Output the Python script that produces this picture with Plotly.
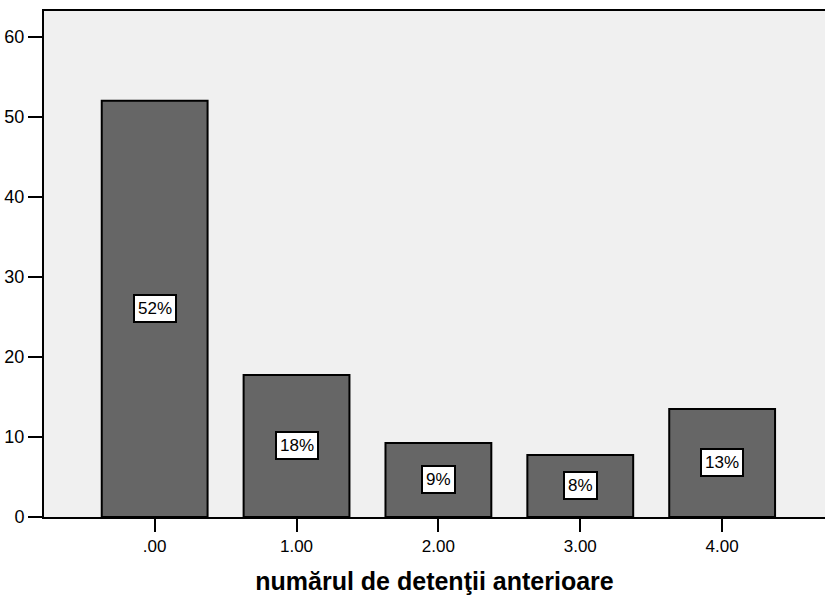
import plotly.graph_objects as go

categories = [0, 1, 2, 3, 4]
tick_labels = [".00", "1.00", "2.00", "3.00", "4.00"]
values = [52, 17.75, 9.25, 7.75, 13.5]
pct_labels = ["52%", "18%", "9%", "8%", "13%"]

FONT = "Liberation Sans Narrow, Arial Narrow, Liberation Sans, Arial, sans-serif"

fig = go.Figure()
fig.add_trace(go.Bar(
    x=categories, y=values, width=0.746,
    marker=dict(color="#666666", line=dict(color="black", width=2)),
    hoverinfo="skip",
))

for c, v, t in zip(categories, values, pct_labels):
    fig.add_annotation(
        x=c, y=v / 2, text=t, showarrow=False,
        font=dict(family=FONT, size=17, color="black"),
        bgcolor="white", bordercolor="black", borderwidth=2, borderpad=3,
    )

fig.update_layout(
    width=825, height=597,
    margin=dict(l=44, r=0, t=11, b=80),
    paper_bgcolor="white", plot_bgcolor="#F0F0F0",
    showlegend=False,
    font=dict(family=FONT, color="black"),
)
fig.update_xaxes(
    range=[-0.78, 4.725], tickmode="array", tickvals=categories, ticktext=tick_labels,
    showline=True, linecolor="black", linewidth=2, mirror=True,
    ticks="outside", ticklen=13, tickwidth=2, tickcolor="black",
    tickfont=dict(family=FONT, size=17, color="black"),
    showgrid=False, zeroline=False,
    title=dict(text="<b>numărul de detenţii anterioare</b>",
               font=dict(family=FONT, size=25, color="black"), standoff=17),
)
fig.update_yaxes(
    range=[0, 63.2], tickmode="array", tickvals=[0, 10, 20, 30, 40, 50, 60],
    showline=True, linecolor="black", linewidth=2,
    ticks="outside", ticklen=14, tickwidth=2, tickcolor="black",
    tickfont=dict(family=FONT, size=18, color="black"),
    showgrid=False, zeroline=False,
)

fig.write_html("out.html", config={"displayModeBar": False},
               post_script="document.body.style.margin='0';")
